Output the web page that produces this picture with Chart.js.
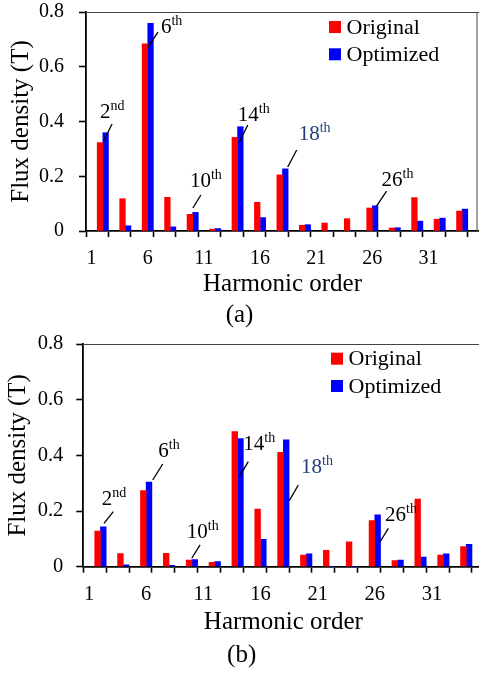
<!DOCTYPE html>
<html lang="en">
<head>
<meta charset="UTF-8">
<title>Flux density harmonics</title>
<style>
  body { margin: 0; background: #fff; width: 479px; height: 677px; overflow: hidden; position: relative; }
  .panel { position: absolute; left: 0; width: 479px; overflow: hidden; }
  .panel canvas { display: block; }
  #panelA { top: 0; height: 330px; }
  #panelB { top: 330px; height: 347px; }
</style>
<script src="https://cdn.jsdelivr.net/npm/chart.js@4"></script>
</head>
<body>
<div class="panel" id="panelA"><canvas id="chartA" width="479" height="330"></canvas></div>
<div class="panel" id="panelB"><canvas id="chartB" width="484" height="347"></canvas></div>
<script>
// harmonic orders on the category axis, only even ones carry bars
const harmonicOrders = [1, 2, 3, 4, 5, 6, 7, 8, 9, 10, 11, 12, 13, 14, 15, 16, 17, 18,
                        19, 20, 21, 22, 23, 24, 25, 26, 27, 28, 29, 30, 31, 32, 33, 34, 35];
const barOrders = [2, 4, 6, 8, 10, 12, 14, 16, 18, 20, 22, 24, 26, 28, 30, 32, 34];
const xTickLabels = [1, 6, 11, 16, 21, 26, 31];
const yTicks = [0, 0.2, 0.4, 0.6, 0.8];

// (a)
const originalA  = [0.323, 0.118, 0.684, 0.123, 0.061, 0.007, 0.342, 0.105, 0.205, 0.021, 0.029, 0.045, 0.084, 0.011, 0.122, 0.043, 0.073];
const optimizedA = [0.359, 0.019, 0.759, 0.015, 0.068, 0.009, 0.381, 0.049, 0.227, 0.023, 0, 0, 0.092, 0.012, 0.036, 0.047, 0.080];
// (b)
const originalB  = [0.128, 0.047, 0.273, 0.048, 0.024, 0.016, 0.485, 0.207, 0.411, 0.042, 0.059, 0.089, 0.166, 0.022, 0.243, 0.042, 0.072];
const optimizedB = [0.143, 0.007, 0.304, 0.005, 0.026, 0.018, 0.460, 0.098, 0.456, 0.046, 0, 0, 0.186, 0.024, 0.035, 0.046, 0.080];

const seriesNames = ['Original', 'Optimized'];
const seriesColors = ['#ff0000', '#0000ff'];

// labelled harmonics; offsets are pixels from the top centre of the Optimized bar
const notesA = [
  { order: 2,  main: '2',  sup: 'nd', text: [-5.6, -14.7], from: [6.4, -8.7],  to: [-1.6, 7.3] },
  { order: 6,  main: '6',  sup: 'th', text: [10.4, 9.8],   from: [7.4, 8.8],   to: [-2.6, 23.8] },
  { order: 10, main: '10', sup: 'th', text: [-5.6, -25.4], from: [5.4, -17.4], to: [-2.6, -4.4] },
  { order: 14, main: '14', sup: 'th', text: [-2.6, -6],    from: [7.4, -1.7],  to: [-1.6, 16.3] },
  { order: 18, main: '18', sup: 'th', text: [13.4, -28.9], from: [11.4, -18.9], to: [2.4, -1.9], color: '#1f3a78' },
  { order: 26, main: '26', sup: 'th', text: [6.4, -20.1],  from: [11.4, -14.8], to: [1.4, 0.2] }
];
const notesB = [
  { order: 2,  main: '2',  sup: 'nd', text: [-1.6, -21.9], from: [10, -15.2],  to: [0.7, -3.6] },
  { order: 6,  main: '6',  sup: 'th', text: [9.3, -25.4],  from: [13.7, -18.1], to: [3.7, -2.1] },
  { order: 10, main: '10', sup: 'th', text: [-8, -21.2],   from: [5.3, -14.5], to: [-3, -1.2] },
  { order: 14, main: '14', sup: 'th', text: [2.8, 11.3],   from: [7.8, 23],    to: [-1.2, 38] },
  { order: 18, main: '18', sup: 'th', text: [14.8, 33.5],  from: [12.1, 45.2], to: [3.1, 60.9], color: '#1f3a78' },
  { order: 26, main: '26', sup: 'th', text: [7.4, 5.8],    from: [10.7, 13.4], to: [2.4, 26.8] }
];

const serif = '"Liberation Serif", "Times New Roman", serif';
Chart.defaults.font.family = serif;
Chart.defaults.color = '#000';

function spread(values) {
  return harmonicOrders.map(h => {
    const i = barOrders.indexOf(h);
    return i < 0 ? null : values[i];
  });
}

function notesPlugin(items) {
  return {
    id: 'notes',
    afterDatasetsDraw(chart) {
      const ctx = chart.ctx;
      const meta = chart.getDatasetMeta(1);
      items.forEach(n => {
        const bar = meta.data[harmonicOrders.indexOf(n.order)];
        const x = bar.x, y = bar.y;
        ctx.save();
        ctx.strokeStyle = '#000';
        ctx.lineWidth = 1.3;
        ctx.beginPath();
        ctx.moveTo(x + n.from[0], y + n.from[1]);
        ctx.lineTo(x + n.to[0], y + n.to[1]);
        ctx.stroke();
        ctx.fillStyle = n.color || '#000';
        ctx.textAlign = 'left';
        ctx.textBaseline = 'alphabetic';
        ctx.font = '21px ' + serif;
        const tx = x + n.text[0], ty = y + n.text[1];
        ctx.fillText(n.main, tx, ty);
        const w = ctx.measureText(n.main).width;
        ctx.font = '14px ' + serif;
        ctx.fillText(n.sup, tx + w, ty - 8);
        ctx.restore();
      });
    }
  };
}

function framePlugin(g) {
  return {
    id: 'frame',
    afterDraw(chart) {
      const { ctx, chartArea: a } = chart;
      ctx.save();
      ctx.strokeStyle = '#444';
      ctx.lineWidth = 1;
      ctx.beginPath();
      ctx.moveTo(a.left, a.top + 0.5);
      ctx.lineTo(a.right, a.top + 0.5);
      if (g.rightBorder) {
        ctx.moveTo(a.right - 2, a.top);
        ctx.lineTo(a.right - 2, a.bottom);
      }
      ctx.stroke();

      // legend inside the plot, top right
      ctx.font = '22px ' + serif;
      ctx.textAlign = 'left';
      ctx.textBaseline = 'alphabetic';
      seriesNames.forEach((name, i) => {
        const sx = a.left + g.legendDx, sy = a.top + g.legendDy + i * 27.3;
        ctx.fillStyle = seriesColors[i];
        ctx.fillRect(sx, sy, 12, 12);
        ctx.fillStyle = '#000';
        ctx.fillText(name, sx + 17.5, sy + 12.5);
      });
      ctx.restore();
    }
  };
}

function makeChart(id, original, optimized, notes, caption, g) {
  return new Chart(document.getElementById(id), {
    type: 'bar',
    data: {
      labels: harmonicOrders,
      datasets: [
        { label: seriesNames[0], data: spread(original), backgroundColor: seriesColors[0] },
        { label: seriesNames[1], data: spread(optimized), backgroundColor: seriesColors[1] }
      ]
    },
    options: {
      responsive: false,
      animation: false,
      categoryPercentage: 1,
      barPercentage: 1,
      layout: { padding: { top: g.padTop, right: g.padRight, left: 0, bottom: 0 } },
      plugins: {
        legend: { display: false },
        tooltip: { enabled: false },
        title: {
          display: true,
          position: 'bottom',
          text: caption,
          font: { size: 25, weight: 'normal' },
          padding: g.captionPad
        }
      },
      scales: {
        x: {
          offset: true,
          grid: {
            offset: true,
            drawOnChartArea: false,
            tickLength: 6,
            tickWidth: 1.6,
            color: c => (typeof c.index === 'number' && c.index % 2 === 0) ? '#000' : 'rgba(0,0,0,0)',
            tickColor: c => (typeof c.index === 'number' && c.index % 2 === 0) ? '#000' : 'rgba(0,0,0,0)'
          },
          border: { color: '#000', width: 1.8 },
          ticks: {
            autoSkip: false,
            maxRotation: 0,
            minRotation: 0,
            padding: g.xTickPad,
            font: { size: g.tickSize },
            callback: function (value) {
              const h = this.getLabelForValue(value);
              return xTickLabels.includes(h) ? String(h) : '';
            }
          },
          title: {
            display: true,
            text: 'Harmonic order',
            font: { size: 25 },
            padding: { top: 0, bottom: g.xTitlePad }
          },
          afterFit: s => { s.height = g.xHeight; s.paddingLeft = 0; s.paddingRight = 0; }
        },
        y: {
          min: 0,
          max: 0.8,
          afterBuildTicks: s => { s.ticks = yTicks.map(v => ({ value: v })); },
          grid: { drawOnChartArea: false, tickLength: 7, tickWidth: 1.6, color: '#000', tickColor: '#000' },
          border: { color: '#000', width: 1.8 },
          ticks: { padding: g.yTickPad, font: { size: g.tickSize } },
          title: {
            display: true,
            text: 'Flux density (T)',
            font: { size: 25 },
            padding: { top: g.yTitlePad, bottom: 0 }
          },
          afterFit: s => { s.width = g.yWidth; s.paddingTop = 0; s.paddingBottom = 0; }
        }
      }
    },
    plugins: [framePlugin(g), notesPlugin(notes)]
  });
}

makeChart('chartA', originalA, optimizedA, notesA, '(a)', {
  yWidth: 86, xHeight: 68, padTop: 12, padRight: 0, captionPad: { top: 1, bottom: 0 },
  xTitlePad: 0, xTickPad: 10, yTickPad: 15, yTitlePad: 6.5, tickSize: 20,
  legendDx: 243, legendDy: 9, rightBorder: true
});

makeChart('chartB', originalB, optimizedB, notesB, '(b)', {
  yWidth: 83.3, xHeight: 73.3, padTop: 14, padRight: 0.6, captionPad: { top: 0, bottom: 7 },
  xTitlePad: 3, xTickPad: 9.5, yTickPad: 13, yTitlePad: 3.3, tickSize: 20.5,
  legendDx: 247.7, legendDy: 8.7, rightBorder: false
});
</script>
</body>
</html>
